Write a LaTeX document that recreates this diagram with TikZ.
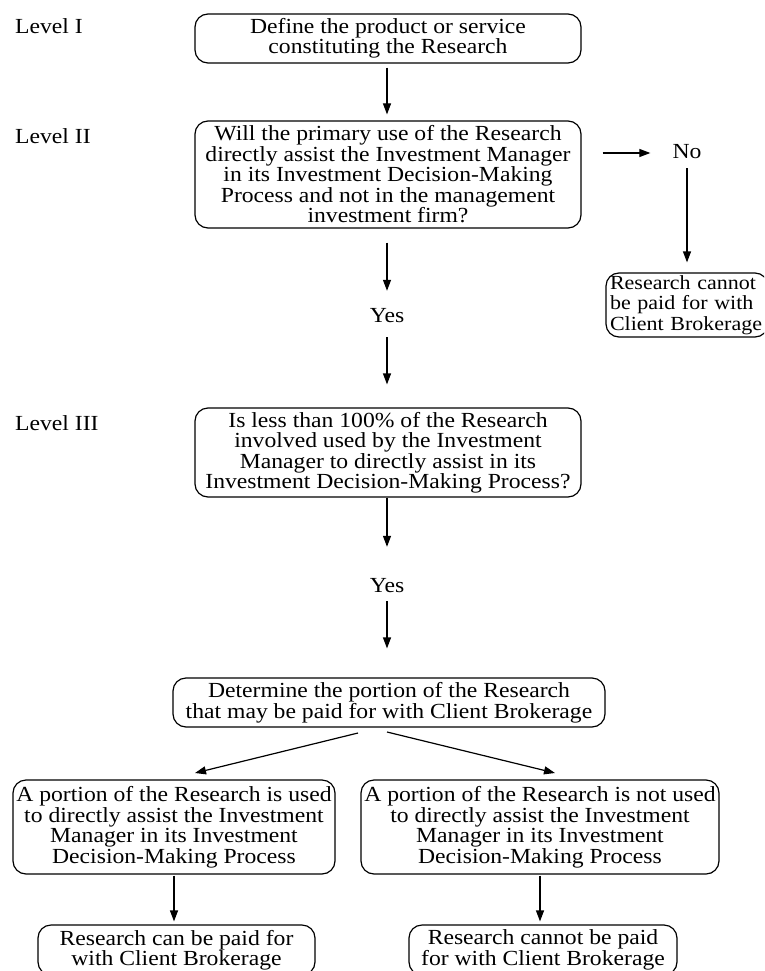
\documentclass[tikz,border=0pt]{standalone}
\usepackage{fontspec}
\setmainfont{Liberation Serif}[FakeStretch=1.1]
\usetikzlibrary{arrows.meta}
\tikzset{
  box/.style={draw, line width=1.2pt, rounded corners=13pt, inner sep=0pt, align=center,
    font=\fontsize{21.5}{20.5}\selectfont},
  lbl/.style={font=\fontsize{21.5}{20.5}\selectfont, inner sep=0pt},
  ans/.style={font=\fontsize{21.5}{20.5}\selectfont, inner sep=0pt, text height=14pt, text depth=4pt},
  arr/.style={line width=1.2pt, -{Triangle[length=11pt,width=8pt]}},
}
\begin{document}
\begin{tikzpicture}[x=1pt,y=-1pt]
\useasboundingbox (0,0) rectangle (764,971);
\clip (0,0) rectangle (764,971);

\node[lbl, anchor=base west] (L1) at (15,34) {Level I};
\node[lbl, anchor=base west] (L2) at (15,143) {Level II};
\node[lbl, anchor=base west] (L3) at (15,430) {Level III};

\node[box, minimum width=386pt, minimum height=49pt] (B1) at (388,38.5)
  {Define the product or service\\constituting the Research};
\node[box, minimum width=386pt, minimum height=107pt] (B2) at (388,174.5)
  {Will the primary use of the Research\\directly assist the Investment Manager\\in its Investment Decision-Making\\Process and not in the management\\investment firm?};
\node[ans] (No) at (687,153) {No};
\node[box, minimum width=162pt, minimum height=64pt, text width=154pt, align=left,
  font=\fontsize{20}{20.5}\selectfont] (R) at (687,305)
  {Research cannot\\be paid for with\\Client Brokerage};
\node[ans] (Y1) at (387,317) {Yes};
\node[box, minimum width=386pt, minimum height=89pt] (B3) at (388,452.5)
  {Is less than 100\% of the Research\\involved used by the Investment\\Manager to directly assist in its\\Investment Decision-Making Process?};
\node[ans] (Y2) at (387,587) {Yes};
\node[box, minimum width=432pt, minimum height=49pt] (B4) at (389,702.5)
  {Determine the portion of the Research\\that may be paid for with Client Brokerage};
\node[box, minimum width=322pt, minimum height=94pt] (BL) at (174,827)
  {A portion of the Research is used\\to directly assist the Investment\\Manager in its Investment\\Decision-Making Process};
\node[box, minimum width=358pt, minimum height=94pt] (BR) at (540,827)
  {A portion of the Research is not used\\to directly assist the Investment\\Manager in its Investment\\Decision-Making Process};
\node[box, minimum width=277pt, minimum height=50pt] (BBL) at (176.5,950)
  {Research can be paid for\\with Client Brokerage};
\node[box, minimum width=268pt, minimum height=50pt] (BBR) at (543,950)
  {Research cannot be paid\\for with Client Brokerage};

\coordinate (d1s) at (358,733);
\coordinate (d1e) at (195,773);
\coordinate (d2s) at (387,732);
\coordinate (d2e) at (555,773);

\draw[arr, shorten <=4pt, shorten >=6pt] (B1.south -| Y1) -- (B2.north -| Y1);
\draw[arr, shorten <=14pt, shorten >=17pt] (B2.south -| Y1) -- (Y1.north);
\draw[arr, shorten <=11pt, shorten >=23pt] (Y1.south) -- (B3.north -| Y1);
\draw[arr, shorten >=31pt] (B3.south -| Y2) -- (Y2.north);
\draw[arr, shorten <=5pt, shorten >=29pt] (Y2.south) -- (B4.north -| Y2);
\draw[arr, shorten <=21pt, shorten >=22pt] (B2.east |- No.west) -- (No.west);
\draw[arr, shorten <=6pt, shorten >=10pt] (No.south) -- (R.north);
\draw[arr] (d1s) -- (d1e);
\draw[arr] (d2s) -- (d2e);
\draw[arr, shorten <=1pt, shorten >=3pt] (BL.south) -- (BL.south |- BBL.north);
\draw[arr, shorten <=1pt, shorten >=3pt] (BR.south) -- (BR.south |- BBR.north);
\end{tikzpicture}
\end{document}
